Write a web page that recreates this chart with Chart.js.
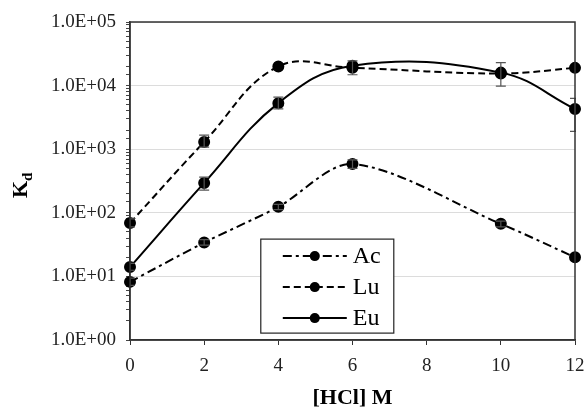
<!DOCTYPE html>
<html>
<head>
<meta charset="utf-8">
<script src="https://cdn.jsdelivr.net/npm/chart.js@4/dist/chart.umd.min.js"></script>
<style>
	html, body { margin: 0; padding: 0; background: #fff; }
	#wrap { width: 587px; height: 408px; position: relative; }
</style>
</head>
<body>
<div id="wrap"><canvas id="kdChart"></canvas></div>
<script>
// valores
const hcl = [0, 2, 4, 6, 10, 12];
const kdAc = [8.2, 34, 124, 585, 67, 20];
const kdLu = [69, 1300, 20000, 19000, 15500, 19000];
const kdEu = [14, 295, 5300, 20500, 16000, 4300];

// barras de erro (mínimo / máximo), null = sem barra
const erroAcMin = [7.2, 31, 112, 500, 60, null];
const erroAcMax = [9.4, 38, 136, 680, 74, null];
const erroLuMin = [60, 1080, null, 14800, null, null];
const erroLuMax = [80, 1670, null, 24500, null, null];
const erroEuMin = [12.5, 228, 4300, null, 9800, 1900];
const erroEuMax = [16, 364, 6600, null, 23000, 6300];

const etiquetasY = ['1.0E+00', '1.0E+01', '1.0E+02', '1.0E+03', '1.0E+04', '1.0E+05'];
const nomesSeries = ['Ac', 'Lu', 'Eu'];
const tituloX = '[HCl] M';

const fonteSerif = '"Liberation Serif", "Times New Roman", serif';

function pontos(valores) {
	return hcl.map((x, i) => ({ x: x, y: valores[i] }));
}

function serie(nome, valores, tracejado, tensao, eMin, eMax) {
	return {
		label: nome,
		data: pontos(valores),
		borderColor: '#000',
		backgroundColor: '#000',
		borderWidth: 2,
		borderDash: tracejado,
		pointRadius: 5,
		pointHoverRadius: 5,
		pointBackgroundColor: '#000',
		pointBorderColor: '#000',
		tension: tensao,
		clip: false,
		erroMin: eMin,
		erroMax: eMax
	};
}

const pluginExtras = {
	id: 'extras',
	afterDatasetsDraw(chart) {
		const ctx = chart.ctx;
		const area = chart.chartArea;
		const xs = chart.scales.x;
		const ys = chart.scales.y;

		// barras de erro
		ctx.save();
		ctx.beginPath();
		ctx.rect(area.left, area.top - 2, area.right - area.left + 1, area.bottom - area.top + 4);
		ctx.clip();
		ctx.strokeStyle = '#555';
		ctx.lineWidth = 1.2;
		chart.data.datasets.forEach(ds => {
			hcl.forEach((x, i) => {
				if (ds.erroMin[i] == null) return;
				const px = xs.getPixelForValue(x);
				const y1 = ys.getPixelForValue(ds.erroMin[i]);
				const y2 = ys.getPixelForValue(ds.erroMax[i]);
				ctx.beginPath();
				ctx.moveTo(px, y1); ctx.lineTo(px, y2);
				ctx.moveTo(px - 5, y1); ctx.lineTo(px + 5, y1);
				ctx.moveTo(px - 5, y2); ctx.lineTo(px + 5, y2);
				ctx.stroke();
			});
		});
		ctx.restore();

		// moldura da área do gráfico
		ctx.save();
		ctx.strokeStyle = '#333';
		ctx.lineWidth = 1.5;
		ctx.strokeRect(area.left, area.top, area.right - area.left, area.bottom - area.top);
		ctx.restore();

		// legenda dentro do gráfico
		const lx = xs.getPixelForValue(3.5) + 1;
		const ly = ys.getPixelForValue(40) + 1;
		const lw = 133, lh = 94;
		ctx.save();
		ctx.fillStyle = '#fff';
		ctx.fillRect(lx, ly, lw, lh);
		ctx.strokeStyle = '#222';
		ctx.lineWidth = 1.2;
		ctx.strokeRect(lx, ly, lw, lh);
		ctx.font = '24px ' + fonteSerif;
		ctx.textBaseline = 'middle';
		chart.data.datasets.forEach((ds, i) => {
			const cy = ly + 17 + i * 31;
			ctx.strokeStyle = '#000';
			ctx.lineWidth = 2;
			ctx.setLineDash(ds.borderDash);
			ctx.beginPath();
			ctx.moveTo(lx + 22, cy);
			ctx.lineTo(lx + 86, cy);
			ctx.stroke();
			ctx.setLineDash([]);
			ctx.fillStyle = '#000';
			ctx.beginPath();
			ctx.arc(lx + 54, cy, 5, 0, Math.PI * 2);
			ctx.fill();
			ctx.fillText(nomesSeries[i], lx + 92, cy + 1);
		});
		ctx.restore();
	},
	afterDraw(chart) {
		const ctx = chart.ctx;
		const area = chart.chartArea;
		// título do eixo x
		ctx.save();
		ctx.fillStyle = '#000';
		ctx.font = 'bold 22px ' + fonteSerif;
		ctx.textAlign = 'center';
		ctx.textBaseline = 'alphabetic';
		ctx.fillText(tituloX, (area.left + area.right) / 2, 404);
		ctx.restore();

		// título do eixo y com índice "d"
		ctx.save();
		ctx.translate(27, 198);
		ctx.rotate(-Math.PI / 2);
		ctx.fillStyle = '#000';
		ctx.textBaseline = 'alphabetic';
		ctx.font = 'bold 22px ' + fonteSerif;
		ctx.fillText('K', 0, 0);
		const wK = ctx.measureText('K').width;
		ctx.font = 'bold 15px ' + fonteSerif;
		ctx.fillText('d', wK, 5);
		ctx.restore();
	}
};

window.onload = function () {
	const contexto = document.getElementById('kdChart').getContext('2d');
	new Chart(contexto, {
		type: 'line',
		data: {
			datasets: [
				serie('Ac', kdAc, [9, 4, 3, 4], 0.3, erroAcMin, erroAcMax),
				serie('Lu', kdLu, [7, 4], 0.4, erroLuMin, erroLuMax),
				serie('Eu', kdEu, [], 0.4, erroEuMin, erroEuMax)
			]
		},
		options: {
			responsive: true,
			maintainAspectRatio: false,
			animation: false,
			layout: { padding: { top: 22, right: 12, left: 0, bottom: 0 } },
			plugins: {
				legend: { display: false },
				tooltip: { enabled: false }
			},
			scales: {
				x: {
					type: 'linear',
					min: 0,
					max: 12,
					afterFit: s => { s.height = 68; s.paddingRight = 0; s.paddingLeft = 0; },
					border: { color: '#333', width: 1.5 },
					grid: { drawOnChartArea: false, tickLength: 5, tickColor: '#333' },
					ticks: {
						stepSize: 2,
						padding: 10,
						color: '#222',
						font: { family: fonteSerif, size: 19 }
					}
				},
				y: {
					type: 'logarithmic',
					min: 1,
					max: 100000,
					afterFit: s => { s.width = 130; s.paddingTop = 0; s.paddingBottom = 0; },
					border: { color: '#333', width: 1.5 },
					grid: {
						color: c => (c.tick && Math.abs(Math.log10(c.tick.value) - Math.round(Math.log10(c.tick.value))) < 1e-6) ? '#dcdcdc' : 'rgba(0,0,0,0)',
						tickColor: '#444',
						tickLength: 4
					},
					ticks: {
						autoSkip: false,
						padding: 10,
						color: '#222',
						font: { family: fonteSerif, size: 19 },
						callback: v => {
							const p = Math.log10(v);
							if (Math.abs(p - Math.round(p)) > 1e-6) return '';
							return etiquetasY[Math.round(p)];
						}
					}
				}
			}
		},
		plugins: [pluginExtras]
	});
};
</script>
</body>
</html>
